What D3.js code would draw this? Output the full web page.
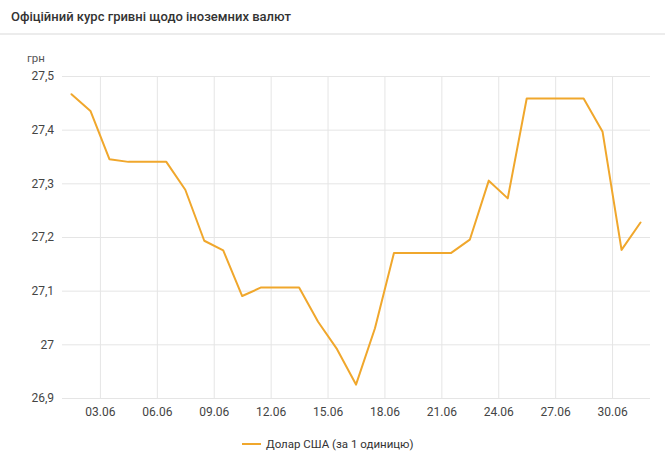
<!DOCTYPE html>
<html>
<head>
<meta charset="utf-8">
<script src="https://cdn.jsdelivr.net/npm/d3@7"></script>
<style>
  html, body { margin: 0; padding: 0; background: #fff; }
  svg { display: block; font-family: Roboto, "Noto Sans", sans-serif; }
</style>
</head>
<body>
<svg id="chart" width="665" height="461"></svg>
<script>
// ---- data ----
const title = "Офіційний курс гривні щодо іноземних валют";
const unitLabel = "грн";
const seriesName = "Долар США (за 1 одиницю)";
const dates = [
  "2021-06-01","2021-06-02","2021-06-03","2021-06-04","2021-06-05","2021-06-06","2021-06-07",
  "2021-06-08","2021-06-09","2021-06-10","2021-06-11","2021-06-12","2021-06-13","2021-06-14",
  "2021-06-15","2021-06-16","2021-06-17","2021-06-18","2021-06-19","2021-06-20","2021-06-21",
  "2021-06-22","2021-06-23","2021-06-24","2021-06-25","2021-06-26","2021-06-27","2021-06-28",
  "2021-06-29","2021-06-30","2021-07-01"
];
const usdRate = [
  27.466, 27.435, 27.345, 27.340, 27.340, 27.340, 27.288,
  27.193, 27.175, 27.090, 27.106, 27.106, 27.106, 27.042,
  26.991, 26.925, 27.030, 27.170, 27.170, 27.170, 27.170,
  27.195, 27.305, 27.272, 27.458, 27.458, 27.458, 27.458,
  27.396, 27.176, 27.227
];
const yTicks = [26.9, 27.0, 27.1, 27.2, 27.3, 27.4, 27.5];
const xTickLabels = ["03.06","06.06","09.06","12.06","15.06","18.06","21.06","24.06","27.06","30.06"];

// ---- chart ----
const svg = d3.select("#chart");
const W = 665, H = 461;
const m = { left: 62, right: 15, top: 76, bottom: 63 };

const parse = d3.timeParse("%Y-%m-%d");
const parseTick = d3.timeParse("%d.%m.%Y");
const pts = dates.map((d, i) => ({ t: d3.timeHour.offset(parse(d), 12), v: usdRate[i] }));

const x = d3.scaleTime()
  .domain([parse("2021-06-01"), parse("2021-07-02")])
  .range([m.left, W - m.right]);
const y = d3.scaleLinear()
  .domain([26.9, 27.5])
  .range([H - m.bottom, m.top]);

// title
svg.append("text")
  .attr("x", 11).attr("y", 21)
  .attr("font-size", 13).attr("font-weight", 500)
  .attr("fill", "#333")
  .text(title);
svg.append("rect")
  .attr("x", 0).attr("y", 33).attr("width", W).attr("height", 2)
  .attr("fill", "#ececec");

// unit label
svg.append("text")
  .attr("x", 27).attr("y", 62)
  .attr("font-size", 11.5).attr("fill", "#555")
  .text(unitLabel);

const fmt = v => d3.format(".1~f")(v).replace(".", ",");

// horizontal grid + y labels
const yAxis = d3.axisLeft(y).tickValues(yTicks).tickSize(-(W - m.left - m.right)).tickFormat(fmt).tickPadding(8);
const gy = svg.append("g").attr("transform", `translate(${m.left},0)`).call(yAxis);
gy.select(".domain").remove();
gy.selectAll(".tick line").attr("stroke", "#e5e5e5");
gy.selectAll(".tick text").attr("font-size", 12).attr("fill", "#444").attr("font-family", "Roboto, sans-serif");

// vertical grid + x labels
const xTickDates = xTickLabels.map(s => parseTick(s + ".2021"));
const xAxis = d3.axisBottom(x).tickValues(xTickDates).tickSize(-(y.range()[0] - y.range()[1]))
  .tickFormat((d, i) => xTickLabels[i]).tickPadding(9);
const gx = svg.append("g").attr("transform", `translate(0,${y(26.9)})`).call(xAxis);
gx.select(".domain").remove();
gx.selectAll(".tick line").attr("stroke", "#e5e5e5");
gx.selectAll(".tick text").attr("font-size", 12).attr("fill", "#444").attr("font-family", "Roboto, sans-serif");

// line
const line = d3.line().x(d => x(d.t)).y(d => y(d.v)).curve(d3.curveLinear);
svg.append("path")
  .datum(pts)
  .attr("d", line)
  .attr("fill", "none")
  .attr("stroke", "#f0a72c")
  .attr("stroke-width", 2)
  .attr("stroke-linejoin", "round")
  .attr("stroke-linecap", "round");

// legend
const lg = svg.append("g").attr("transform", "translate(242,444)");
lg.append("line").attr("x1", 0).attr("x2", 19).attr("y1", 0).attr("y2", 0)
  .attr("stroke", "#f0a72c").attr("stroke-width", 2);
lg.append("text").attr("x", 24).attr("y", 0).attr("dy", "0.35em")
  .attr("font-size", 11.5).attr("fill", "#333")
  .text(seriesName);
</script>
</body>
</html>
